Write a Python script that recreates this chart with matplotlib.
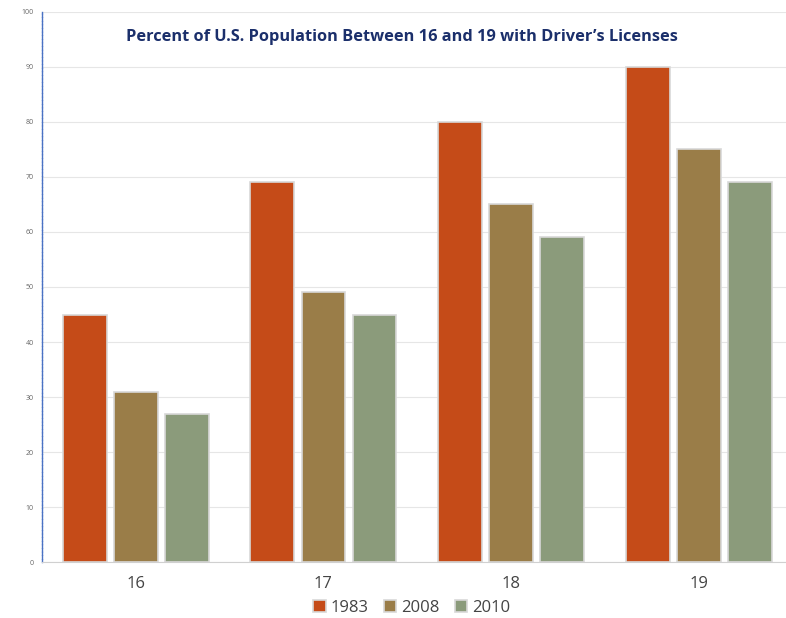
import numpy as np
import matplotlib
matplotlib.use("Agg")
import matplotlib.pyplot as plt

ages = ["16", "17", "18", "19"]
years = ["1983", "2008", "2010"]
pct_1983 = [45, 69, 80, 90]
pct_2008 = [31, 49, 65, 75]
pct_2010 = [27, 45, 59, 69]
colors = ["#C54B18", "#9A7D48", "#8B9B7B"]

plt.rcParams['font.family'] = ['Open Sans', 'DejaVu Sans']

fig = plt.figure(figsize=(7.86, 6.18), dpi=100)
ax = fig.add_axes([0.0534, 0.0906, 0.955, 0.89])

x = np.arange(len(ages))
width = 0.234
step = 0.272
for i, (vals, yr) in enumerate(zip([pct_1983, pct_2008, pct_2010], years)):
    ax.bar(x + (i - 1) * step, vals, width, color=colors[i], label=yr,
           edgecolor="#D8D8D8", linewidth=1.2, zorder=3)

ax.set_xlim(-0.5, 3.5)
ax.set_ylim(0, 100)
ax.set_yticks(range(0, 101, 10))
ax.tick_params(axis='y', labelsize=5, colors="#666666", length=0, pad=6)
ax.tick_params(axis='x', labelsize=12, colors="#444444", length=0, pad=10)
ax.set_xticks(x)
ax.set_xticklabels(ages)
ax.grid(axis='y', color="#E6E6E6", linewidth=0.8, zorder=0)
for s in ["top", "right"]:
    ax.spines[s].set_visible(False)
ax.spines["bottom"].set_color("#D0D0D0")
ax.spines["left"].set_color("#4A72C4")
ax.spines["left"].set_linestyle((0, (2, 0.6)))
ax.spines["left"].set_linewidth(1.0)

fig.text(0.512, 0.94, "Percent of U.S. Population Between 16 and 19 with Driver\u2019s Licenses",
         fontsize=11.8, fontweight="bold", color="#1B2F6B", ha="center", va="center")

leg = fig.legend(loc="center", bbox_to_anchor=(0.524, 0.016), ncol=3,
                 frameon=False, fontsize=12, handlelength=0.75, handleheight=0.75,
                 handletextpad=0.3, columnspacing=0.9, labelcolor="#444444",
                 borderpad=0.1)

plt.savefig("out.png")
